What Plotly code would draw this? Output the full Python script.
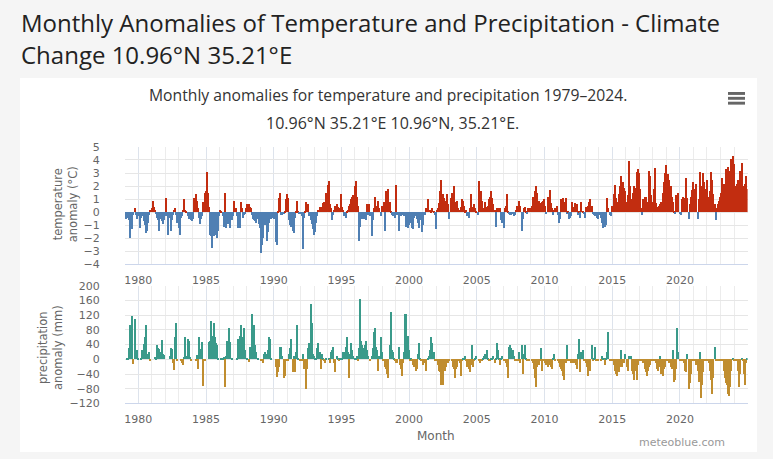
import plotly.graph_objects as go

years = list(range(1979, 2025))

temp_anomaly = [
    [-0.5,-0.4,-0.3,-0.6,-2.0,-0.4,-1.3,-0.2,0.3,-0.2,-0.5,-0.3],   # 1979
    [-0.3,-1.2,-0.4,-0.3,-0.7,-1.0,-1.6,-1.4,-0.8,-0.2,0.2,0.3],    # 1980
    [0.9,0.4,0.2,-0.1,-0.4,-0.6,-1.4,-0.5,-0.7,-0.9,-0.6,-0.3],     # 1981
    [1.1,-0.3,-1.7,-0.4,-1.4,-0.6,-0.2,0.2,0.3,-0.2,-0.8,-1.2],     # 1982
    [-1.7,-0.4,-0.3,0.2,1.0,0.2,0.1,-0.3,-0.5,-0.3,-0.6,-0.7],      # 1983
    [-0.5,1.1,1.4,0.9,0.3,-0.4,-0.9,-0.5,-0.3,0.8,1.5,1.6],         # 1984
    [3.1,1.5,0.4,-1.7,-1.8,-2.7,-1.8,-1.7,-1.6,-2.0,-1.4,-0.3],     # 1985
    [0.2,0.1,-0.3,-1.1,1.5,-1.2,-0.6,-0.9,-0.5,-1.2,-0.6,-0.3],     # 1986
    [0.9,0.2,0.3,-0.3,-1.2,-1.2,0.8,0.3,-0.4,-0.2,-0.1,0.3],        # 1987
    [0.6,0.6,0.4,0.3,-0.2,-0.5,-0.6,-0.7,-0.8,-0.5,-0.9,-1.2],      # 1988
    [-3.1,-2.5,-2.0,-0.9,-1.0,-2.2,-1.5,-0.8,-0.4,-0.5,-0.3,-0.4],  # 1989
    [-0.5,-2.3,-2.5,0.1,1.1,1.5,-0.2,-0.2,-0.1,0.1,1.0,1.4],        # 1990
    [1.1,-0.6,-1.0,-1.1,-1.4,-1.6,-0.4,0.1,0.9,0.1,-0.1,-0.1],      # 1991
    [-0.3,-2.8,-0.4,0.1,0.8,0.3,0.6,-0.3,-0.6,-0.9,-1.3,-1.7],      # 1992
    [-1.5,-0.8,-0.3,0.2,0.4,0.4,0.3,0.7,0.8,0.3,1.5,2.1],           # 1993
    [2.4,0.6,0.3,-0.6,-0.2,0.2,0.5,0.6,0.4,0.2,0.3,1.4],            # 1994
    [0.4,0.2,-0.3,-0.4,0.1,0.2,0.5,0.6,1.0,1.2,1.3,2.0],            # 1995
    [2.4,1.2,0.5,-2.2,-1.1,-0.3,-0.5,-0.5,-0.3,-0.6,0.6,-0.2],      # 1996
    [0.6,-0.3,-1.8,-0.6,0.3,1.2,0.5,0.2,0.9,0.3,-0.3,0.5],          # 1997
    [0.5,0.8,-1.4,1.6,1.2,1.8,0.8,0.1,-0.2,-0.3,-0.2,-0.4],         # 1998
    [2.1,-0.2,-1.4,-0.2,-0.3,-0.1,-0.2,-0.3,-0.1,-1.1,-1.2,-1.0],   # 1999
    [-0.5,-0.8,-1.2,-1.3,-0.4,-0.3,-0.5,-0.8,-1.2,-0.6,-0.4,-1.5],  # 2000
    [-1.0,-0.2,0.3,0.2,1.0,0.2,0.2,0.1,0.3,0.1,-0.2,-1.3],          # 2001
    [0.2,0.3,0.7,1.6,2.5,1.4,1.1,0.9,0.5,1.4,0.6,-0.5],             # 2002
    [1.1,1.5,1.2,2.0,0.8,0.6,0.9,0.3,0.2,0.4,1.0,0.9],              # 2003
    [0.5,0.1,0.2,-0.3,-0.4,0.3,1.4,0.3,0.4,0.6,0.3,0.1],            # 2004
    [-0.2,2.4,1.0,1.6,0.9,0.3,0.2,0.8,0.4,0.5,1.0,1.2],             # 2005
    [1.6,1.1,0.6,0.2,-1.1,0.3,0.2,0.3,0.3,-0.6,-0.8,-1.2],          # 2006
    [0.3,0.5,1.4,0.1,-0.1,-0.2,-0.2,-0.1,-0.3,-0.2,0.2,0.5],        # 2007
    [0.5,0.9,0.5,-1.4,-0.5,0.3,0.4,0.1,-0.1,0.3,0.3,0.3],           # 2008
    [0.5,1.2,0.7,1.6,2.0,1.5,0.9,0.7,0.5,0.8,0.9,1.0],              # 2009
    [0.5,-0.1,1.2,0.5,1.7,0.7,0.3,-0.2,0.2,0.3,0.5,-0.2],           # 2010
    [-0.8,-0.5,1.0,0.4,1.1,0.8,1.1,-0.1,0.1,-0.5,-0.4,-0.3],        # 2011
    [0.8,0.4,0.7,0.6,0.6,-0.2,0.1,-0.4,0.8,0.1,-0.1,-0.4],          # 2012
    [0.4,0.2,0.5,0.8,1.0,0.5,-0.1,-0.2,-0.3,-0.2,-0.4,-0.5],        # 2013
    [-0.2,-0.4,-0.8,-1.2,-0.7,-1.1,-1.0,1.1,0.3,-0.2,-0.3,0.5],     # 2014
    [0.5,1.4,2.1,1.1,0.8,1.4,2.0,2.8,1.2,2.3,1.9,1.6],              # 2015
    [0.8,1.3,3.9,2.0,1.0,0.4,1.5,2.0,1.9,3.1,3.3,3.0],              # 2016
    [1.8,0.3,-0.2,1.0,1.2,1.2,0.8,0.7,3.2,2.8,1.3,0.8],             # 2017
    [1.8,3.4,0.7,0.4,0.3,0.5,0.6,0.8,1.5,2.3,3.0,3.6],              # 2018
    [2.2,2.9,2.5,2.0,1.2,0.8,0.1,-0.1,1.3,0.8,1.5,-0.1],            # 2019
    [-0.2,1.0,1.2,0.6,1.1,2.6,1.1,-0.5,0.6,1.2,1.7,2.3],            # 2020
    [1.3,1.8,2.2,-0.5,1.0,3.1,1.5,2.0,3.0,2.3,1.8,2.5],             # 2021
    [1.2,0.6,1.6,3.1,2.5,1.4,0.6,-0.6,0.3,0.6,0.9,1.2],             # 2022
    [1.5,2.6,2.2,1.8,3.3,2.5,3.5,3.2,2.9,4.1,4.3,3.7],              # 2023
    [2.0,1.2,2.2,2.5,2.0,3.2,3.8,2.0,1.3,2.2,2.8,1.8],              # 2024
]

precip_anomaly = [
    [0,5,2,30,95,20,118,-12,110,25,25,3],          # 1979
    [0,0,2,25,42,60,95,15,15,20,-5,0],             # 1980
    [0,0,8,5,40,30,28,20,52,15,12,0],              # 1981
    [0,0,0,10,30,28,-10,-28,62,100,-5,0],          # 1982
    [0,-5,-10,-15,8,60,10,55,50,8,-5,0],           # 1983
    [0,0,-5,12,-25,60,25,28,47,-72,-5,0],          # 1984
    [0,0,48,50,105,65,100,60,45,40,5,0],           # 1985
    [0,3,5,8,-75,10,50,20,85,48,5,0],              # 1986
    [0,0,0,5,55,65,95,60,45,85,25,0],              # 1987
    [5,-8,35,20,125,80,95,40,20,5,0,0],            # 1988
    [-5,0,-10,15,20,15,25,60,55,5,0,0],            # 1989
    [0,-20,-48,-35,-20,35,35,10,-50,-45,-5,0],     # 1990
    [-5,15,30,55,-35,10,-35,20,95,5,0,-5],         # 1991
    [-5,15,-25,-20,-80,-25,30,45,150,100,15,10],   # 1992
    [5,5,30,45,20,-25,15,5,-5,-10,5,0],            # 1993
    [5,-10,20,25,35,-10,-35,10,5,-5,5,5],          # 1994
    [5,20,20,35,60,20,-50,15,45,25,10,5],          # 1995
    [5,10,-5,30,165,50,40,30,40,50,25,10],         # 1996
    [0,-5,10,30,75,85,35,25,-30,10,60,20],         # 1997
    [-5,-5,-20,-25,-40,-50,40,130,25,20,5,-5],     # 1998
    [-10,-10,35,-15,-25,-45,-10,20,125,125,65,25], # 1999
    [-5,5,-5,-15,-20,-30,-25,15,45,5,-5,-5],       # 2000
    [-15,-10,-30,0,5,10,25,60,45,20,-5,0],         # 2001
    [-5,-15,-30,-35,-70,-70,-30,-30,-20,-5,-10,-5],# 2002
    [0,-5,-20,-25,-50,-25,-20,-5,-10,-45,-5,5],    # 2003
    [5,10,-5,-20,-25,-35,-15,40,-20,-5,5,10],      # 2004
    [0,-5,-10,-5,-5,5,10,15,25,5,-5,-5],           # 2005
    [5,5,10,-10,5,45,25,5,-15,5,10,-5],            # 2006
    [-5,-10,-20,-50,35,40,30,25,10,-5,-5,-5],      # 2007
    [-5,20,-10,40,-40,15,40,5,-5,-5,-5,0],         # 2008
    [-5,-10,-25,-50,-75,-20,-15,-5,30,-30,-5,-5],  # 2009
    [-10,-15,-20,-15,-10,-20,-25,5,15,-5,0,-5],    # 2010
    [-10,-20,-25,-30,-45,-55,-10,40,-5,-5,-5,-10], # 2011
    [-5,-10,-10,-15,-25,15,55,-35,20,25,-5,-5],    # 2012
    [-10,-20,-45,-15,-30,40,-5,5,35,-5,-5,-5],     # 2013
    [0,-5,10,5,5,-15,5,20,75,-5,-5,-5],            # 2014
    [-5,-15,-30,-40,-45,-35,-20,25,-20,-5,-10,15], # 2015
    [-20,-30,10,10,10,-30,-40,-55,-30,-55,-15,-5], # 2016
    [-5,-5,-5,-10,-25,-35,-45,-30,-20,-15,-5,-5],  # 2017
    [-5,-5,-10,-25,-30,-20,10,-40,-45,-25,-20,-5], # 2018
    [-5,-5,-10,-20,-25,25,-60,-55,-25,85,20,-5],   # 2019
    [-5,-5,-5,-10,-30,-35,15,-80,-65,-40,-5,-5],   # 2020
    [-5,-5,-15,-30,-60,20,-105,-70,-35,-5,-5,-5],  # 2021
    [-5,-10,-30,-55,-95,-50,35,-5,-5,-5,-5,-5],    # 2022
    [-5,-5,-30,-50,-65,-70,-95,-100,-75,-30,5,-5], # 2023
    [-5,-5,-5,-30,-75,-40,5,-5,-40,-70,-10,5],     # 2024
]

x_ticks = [1980, 1985, 1990, 1995, 2000, 2005, 2010, 2015, 2020]
temp_ticks = [-4, -3, -2, -1, 0, 1, 2, 3, 4, 5]
precip_ticks = [-120, -80, -40, 0, 40, 80, 120, 160, 200]

# ---------------------------------------------------------------
W, H = 773, 459
def px(x): return x / W
def py(y): return 1 - y / H

months_x, t_vals, p_vals = [], [], []
for yi, yr in enumerate(years):
    for m in range(12):
        months_x.append(yr + (m + 0.5) / 12)
        t_vals.append(temp_anomaly[yi][m])
        p_vals.append(precip_anomaly[yi][m])

T_POS, T_NEG = "#c22d10", "#4f7fb3"
P_POS, P_NEG = "#3a9a8a", "#c08d2f"

fig = go.Figure()
fig.add_trace(go.Bar(x=months_x, y=t_vals, xaxis="x", yaxis="y",
                     marker=dict(color=[T_POS if v >= 0 else T_NEG for v in t_vals], line=dict(width=0)),
                     width=0.9 / 12, showlegend=False))
fig.add_trace(go.Bar(x=months_x, y=p_vals, xaxis="x2", yaxis="y2",
                     marker=dict(color=[P_POS if v >= 0 else P_NEG for v in p_vals], line=dict(width=0)),
                     width=0.9 / 12, showlegend=False))

x0, x1 = px(124.8), px(747.6)
tick_font = dict(family="DejaVu Sans", size=11, color="#666666")
xcommon = dict(range=[1979, 2025], tickvals=x_ticks, showgrid=True, gridcolor="#dde3ec", gridwidth=1,
               minor=dict(dtick=1, tick0=1979, showgrid=True, gridcolor="#ececec"),
               showline=True, linecolor="#ccd6eb", linewidth=1, ticks="", tickfont=tick_font,
               ticklabelstandoff=5, zeroline=False, fixedrange=True)
fig.update_layout(
    width=W, height=H, margin=dict(l=0, r=0, t=0, b=0),
    paper_bgcolor="#f5f5f5", plot_bgcolor="white", bargap=0,
    xaxis=dict(domain=[x0, x1], anchor="y", **xcommon),
    xaxis2=dict(domain=[x0, x1], anchor="y2", **xcommon),
    yaxis=dict(domain=[py(266), py(145)], range=[-4, 5], tickvals=temp_ticks, showgrid=True,
               gridcolor="#e6e6e6", zeroline=False, tickfont=tick_font, ticklabelstandoff=24, anchor="x"),
    yaxis2=dict(domain=[py(409), py(288)], range=[-120, 200], tickvals=precip_ticks, showgrid=True,
                gridcolor="#e6e6e6", zeroline=False, tickfont=tick_font, ticklabelstandoff=24, anchor="x2"),
    font=dict(family="DejaVu Sans"),
)

shapes = [dict(type="rect", xref="paper", yref="paper", x0=px(20), x1=px(757), y0=0, y1=py(74),
               fillcolor="white", line=dict(width=0), layer="below")]
for yy in (90, 95, 100):
    shapes.append(dict(type="rect", xref="paper", yref="paper", x0=px(728), x1=px(745),
                       y0=py(yy + 1.5), y1=py(yy - 1.5), fillcolor="#666666", line=dict(width=0)))
fig.update_layout(shapes=shapes)

title_font = dict(family="Open Sans", size=24, color="#222222")
ann = [
    dict(text="Monthly Anomalies of Temperature and Precipitation - Climate", x=px(19), y=py(17),
         xanchor="left", yanchor="middle", font=title_font),
    dict(text="Change 10.96°N 35.21°E", x=px(19), y=py(50), xanchor="left", yanchor="middle", font=title_font),
    dict(text="Monthly anomalies for temperature and precipitation 1979–2024.", x=px(388), y=py(92),
         xanchor="center", yanchor="middle", font=dict(family="Open Sans", size=15.7, color="#333333")),
    dict(text="10.96°N 35.21°E 10.96°N, 35.21°E.", x=px(392), y=py(120),
         xanchor="center", yanchor="middle", font=dict(family="Open Sans", size=16, color="#333333")),
    dict(text="temperature<br>anomaly (°C)", x=px(65), y=py(204), textangle=-90,
         xanchor="center", yanchor="middle", font=dict(family="DejaVu Sans", size=11.5, color="#666666")),
    dict(text="precipitation<br>anomaly (mm)", x=px(50), y=py(352), textangle=-90,
         xanchor="center", yanchor="middle", font=dict(family="DejaVu Sans", size=11.5, color="#666666")),
    dict(text="Month", x=px(436), y=py(443), xanchor="center", yanchor="middle",
         font=dict(family="DejaVu Sans", size=12, color="#666666")),
    dict(text="meteoblue.com", x=px(682), y=py(458), xanchor="center", yanchor="bottom",
         font=dict(family="DejaVu Sans", size=11, color="#999999")),
]
for a in ann:
    a.update(xref="paper", yref="paper", showarrow=False)
fig.update_layout(annotations=ann)

fig.write_html("out.html", include_plotlyjs=True, config={"displayModeBar": False},
               post_script="document.body.style.margin='0';")
